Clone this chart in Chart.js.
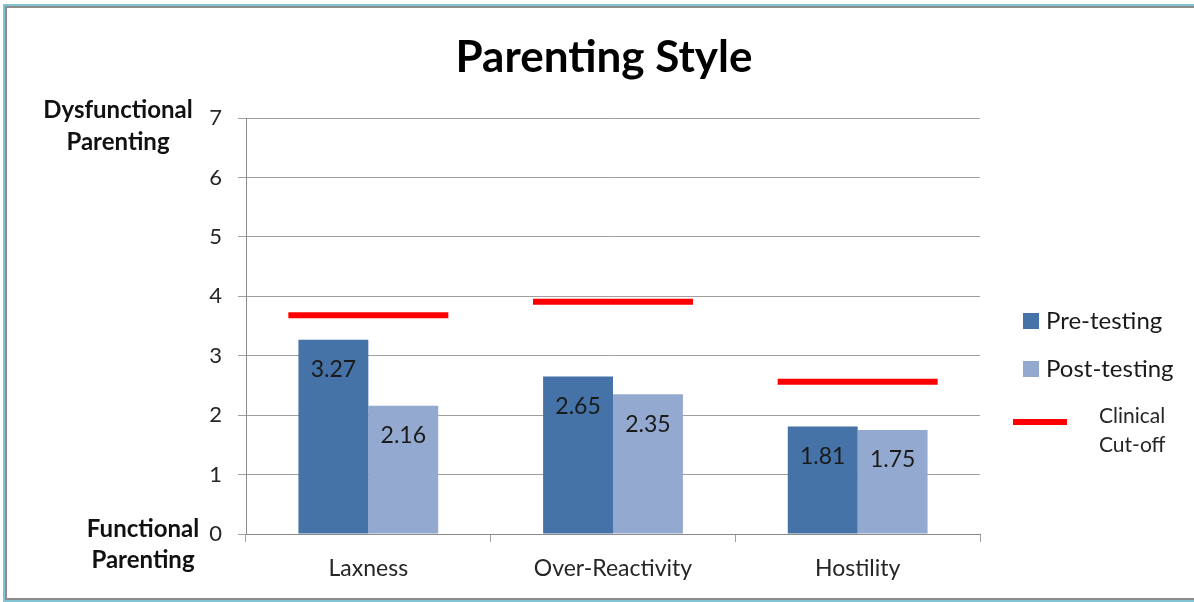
<!DOCTYPE html>
<html>
<head>
<meta charset="utf-8">
<script src="https://cdn.jsdelivr.net/npm/chart.js@4.4.1/dist/chart.umd.min.js"></script>
<style>
  html, body { margin: 0; padding: 0; background: #ffffff; }
  #wrap { width: 1194px; height: 602px; }
  canvas { display: block; }
</style>
</head>
<body>
<div id="wrap"><canvas id="chart" width="1194" height="602"></canvas></div>
<script>
// Parenting style scores before and after the programme
const categories = ['Laxness', 'Over-Reactivity', 'Hostility'];
const preTesting = [3.27, 2.65, 1.81];
const postTesting = [2.16, 2.35, 1.75];
const clinicalCutoff = [3.68, 3.91, 2.56];
const yTicks = [0, 1, 2, 3, 4, 5, 6, 7];

const seriesNames = ['Pre-testing', 'Post-testing', 'Clinical Cut-off'];
const COLORS = { pre: '#4572A7', post: '#93A9CF', cutoff: '#FF0000' };
const FONT = 'Lato, "Open Sans", sans-serif';
const GRID = '#9f9f9f';

// Window frame around the whole chart
const framePlugin = {
  id: 'frame',
  beforeDraw(chart) {
    const ctx = chart.ctx;
    ctx.save();
    ctx.fillStyle = '#ffffff';
    ctx.fillRect(0, 0, chart.width, chart.height);
    ctx.lineWidth = 2;
    ctx.strokeStyle = '#82c3d3';
    ctx.strokeRect(4, 5, 1300, 596);
    ctx.strokeStyle = '#8c8c8c';
    ctx.strokeRect(6, 7, 1300, 592);
    ctx.restore();
  }
};

// Value labels inside the top of each bar
const barLabelPlugin = {
  id: 'barLabels',
  afterDatasetsDraw(chart) {
    const ctx = chart.ctx;
    ctx.save();
    ctx.font = '23px ' + FONT;
    ctx.fillStyle = '#1a1a1a';
    ctx.textAlign = 'center';
    ctx.textBaseline = 'middle';
    [0, 1].forEach(di => {
      const meta = chart.getDatasetMeta(di);
      meta.data.forEach((bar, i) => {
        const v = chart.data.datasets[di].data[i];
        ctx.fillText(v.toFixed(2), bar.x, bar.y + 30);
      });
    });
    ctx.restore();
  }
};

// Title, axis end captions and the legend on the right
const decorPlugin = {
  id: 'decor',
  afterDraw(chart) {
    const ctx = chart.ctx;
    ctx.save();
    ctx.textBaseline = 'middle';
    ctx.textAlign = 'center';
    ctx.fillStyle = '#000000';
    ctx.font = 'bold 44px ' + FONT;
    ctx.fillText('Parenting Style', 604, 58);

    ctx.fillStyle = '#111111';
    ctx.font = 'bold 24px ' + FONT;
    ctx.fillText('Dysfunctional', 118, 110);
    ctx.fillText('Parenting', 118, 142);
    ctx.fillText('Functional', 143, 529);
    ctx.fillText('Parenting', 143, 560);

    // legend
    const ds = chart.data.datasets;
    ctx.textAlign = 'left';
    ctx.font = '24px ' + FONT;
    ctx.fillStyle = ds[0].backgroundColor;
    ctx.fillRect(1023, 313, 16, 16);
    ctx.fillStyle = '#1a1a1a';
    ctx.fillText(ds[0].label, 1046, 321);
    ctx.fillStyle = ds[1].backgroundColor;
    ctx.fillRect(1023, 361, 16, 16);
    ctx.fillStyle = '#1a1a1a';
    ctx.fillText(ds[1].label, 1046, 369);

    ctx.strokeStyle = ds[2].pointBorderColor;
    ctx.lineWidth = 6;
    ctx.beginPath();
    ctx.moveTo(1013, 422);
    ctx.lineTo(1067, 422);
    ctx.stroke();
    ctx.fillStyle = '#262626';
    ctx.font = '21px ' + FONT;
    const parts = ds[2].label.split(' ');
    ctx.fillText(parts[0], 1099, 416);
    ctx.fillText(parts[1], 1099, 445);
    ctx.restore();
  }
};

const chart = new Chart(document.getElementById('chart'), {
  type: 'bar',
  data: {
    labels: categories,
    datasets: [
      {
        label: seriesNames[0],
        data: preTesting,
        backgroundColor: COLORS.pre,
        categoryPercentage: 2 / 3.5,
        barPercentage: 1,
        order: 2
      },
      {
        label: seriesNames[1],
        data: postTesting,
        backgroundColor: COLORS.post,
        categoryPercentage: 2 / 3.5,
        barPercentage: 1,
        order: 2
      },
      {
        type: 'line',
        label: seriesNames[2],
        data: clinicalCutoff,
        showLine: false,
        pointStyle: 'line',
        pointRadius: 80,
        pointHoverRadius: 80,
        pointBorderWidth: 6,
        pointHoverBorderWidth: 6,
        pointBorderColor: COLORS.cutoff,
        borderColor: COLORS.cutoff,
        backgroundColor: COLORS.cutoff,
        clip: false,
        order: 1
      }
    ]
  },
  options: {
    responsive: false,
    animation: false,
    devicePixelRatio: 1,
    layout: { autoPadding: false, padding: { left: 0, top: 118, right: 214, bottom: 0 } },
    plugins: {
      legend: { display: false },
      title: { display: false },
      tooltip: { enabled: false }
    },
    scales: {
      x: {
        offset: true,
        grid: {
          display: true,
          offset: true,
          drawOnChartArea: false,
          drawTicks: true,
          tickLength: 8,
          color: GRID
        },
        border: { display: true, color: '#8a8a8a', width: 1 },
        ticks: {
          font: { family: FONT, size: 23 },
          color: '#262626',
          padding: 13
        },
        afterFit(scale) { scale.height = 68; }
      },
      y: {
        min: yTicks[0],
        max: yTicks[yTicks.length - 1],
        afterBuildTicks(scale) { scale.ticks = yTicks.map(v => ({ value: v })); },
        grid: {
          color: GRID,
          tickLength: 8,
          drawTicks: true
        },
        border: { display: true, color: '#8a8a8a', width: 1 },
        ticks: {
          font: { family: FONT, size: 22 },
          color: '#262626',
          padding: 16
        },
        afterFit(scale) { scale.width = 246; }
      }
    }
  },
  plugins: [framePlugin, barLabelPlugin, decorPlugin]
});
</script>
</body>
</html>
